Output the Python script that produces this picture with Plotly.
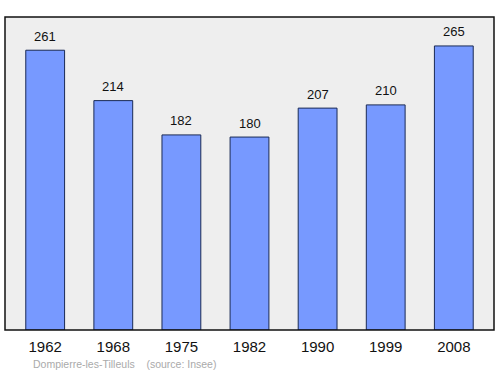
import plotly.graph_objects as go

years = ["1962", "1968", "1975", "1982", "1990", "1999", "2008"]
population = [261, 214, 182, 180, 207, 210, 265]
source_text = "Dompierre-les-Tilleuls    (source: Insee)"

W, H = 500, 374
ml, mr, mt, mb = 5, 6, 17, 44
FONT = "Liberation Sans, Arial, sans-serif"

fig = go.Figure()
fig.add_trace(go.Bar(
    x=years, y=population,
    width=0.57,
    marker=dict(color="#7799ff", line=dict(color="#1a2a55", width=1)),
    hoverinfo="x+y",
))

# category axis: annotation x given as the category index
annotations = [dict(
    x=i, y=v, xref="x", yref="y", text=str(v), showarrow=False,
    yanchor="middle", yshift=14,
    font=dict(family=FONT, size=13, color="#111111"),
) for i, v in enumerate(population)]

annotations.append(dict(
    text=source_text, xref="paper", yref="paper",
    x=(31 - ml) / (W - ml - mr), y=-(363.5 - (H - mb)) / (H - mt - mb),
    xanchor="left", yanchor="middle", showarrow=False,
    font=dict(family=FONT, size=10.5, color="#aaaaaa"),
))

fig.update_layout(
    width=W, height=H,
    margin=dict(l=ml, r=mr, t=mt, b=mb),
    paper_bgcolor="white",
    plot_bgcolor="#eeeeee",
    showlegend=False,
    xaxis=dict(
        type="category", range=[-0.59, 6.59],
        showgrid=False, zeroline=False, showline=False,
        ticks="", ticklabelstandoff=6,
        tickfont=dict(family=FONT, size=15, color="#111111"),
        fixedrange=True,
    ),
    yaxis=dict(
        range=[0, 292], visible=False, showgrid=False, zeroline=False,
        fixedrange=True,
    ),
    shapes=[dict(
        type="rect", xref="paper", yref="paper", x0=0, x1=1, y0=0, y1=1,
        line=dict(color="#111111", width=1.5), fillcolor="rgba(0,0,0,0)", layer="above",
    )],
    annotations=annotations,
)

fig.write_html("out.html")
